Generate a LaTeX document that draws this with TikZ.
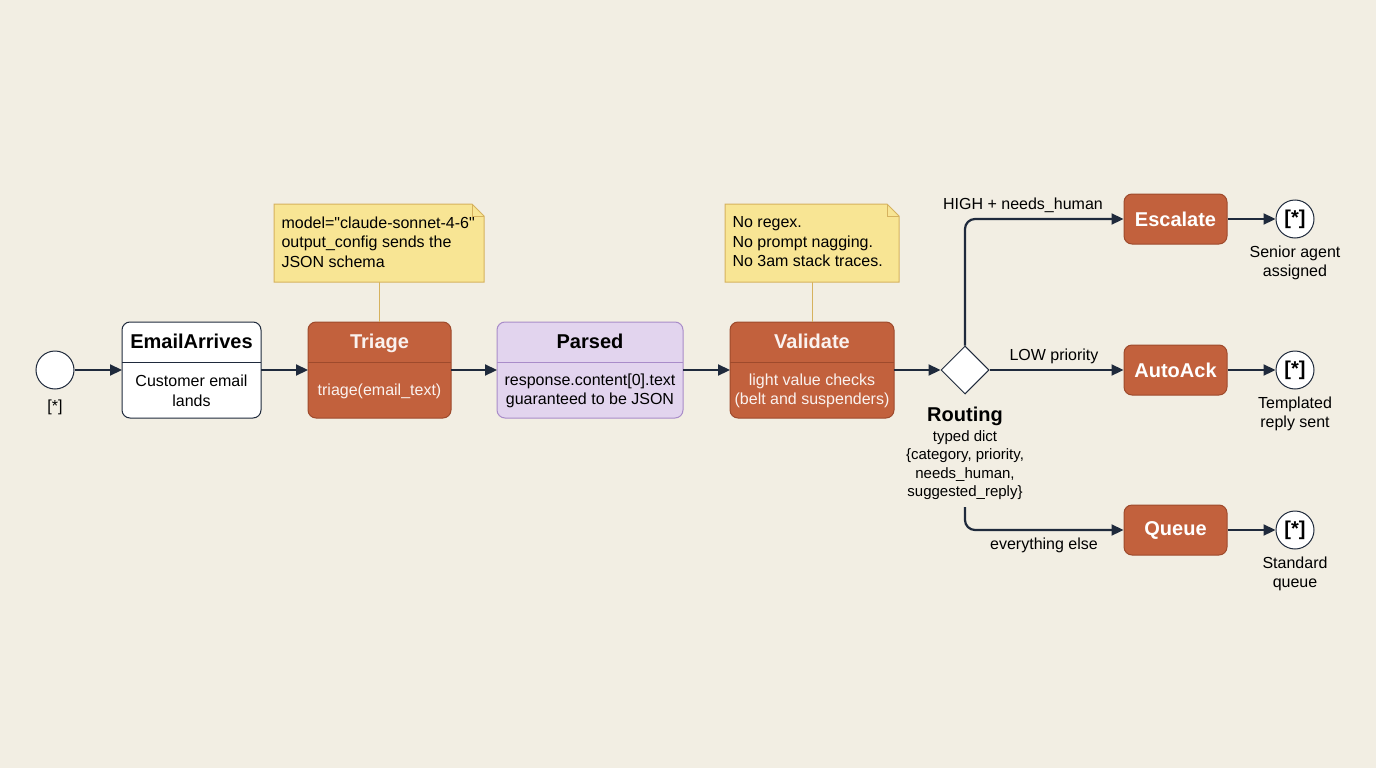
\documentclass[tikz,border=0pt]{standalone}
\usepackage{fontspec}
\setmainfont{Liberation Sans}[Ligatures=TeXOff]
\usetikzlibrary{arrows.meta,shapes.geometric}
\definecolor{bg}{HTML}{F2EEE3}
\definecolor{ink}{HTML}{1F2A3C}
\definecolor{rust}{HTML}{C2613D}
\definecolor{rustb}{HTML}{9E4A2C}
\definecolor{lav}{HTML}{E2D4EE}
\definecolor{lavb}{HTML}{A98CC9}
\definecolor{note}{HTML}{F8E594}
\definecolor{noteb}{HTML}{D6B25E}
\begin{document}
\begin{tikzpicture}[x=1pt,y=-1pt,
  txt/.style={font=\fontsize{16}{19.5}\selectfont,align=center},
  ttl/.style={font=\fontsize{20}{24}\selectfont\bfseries,text height=14.5pt,text depth=4pt},
  arr/.style={draw=ink,line width=2.2pt,-{Triangle[length=12pt,width=11pt]}},
  endc/.style={circle,draw=ink,line width=1pt,fill=white,minimum size=38pt,inner sep=0pt,font=\fontsize{20}{24}\selectfont\bfseries},
  small/.style={rounded corners=8pt,fill=rust,draw=rustb,line width=1pt,minimum width=103pt,minimum height=50pt,text=white,font=\fontsize{20}{24}\selectfont\bfseries}]
\fill[bg] (0,0) rectangle (1376,768);
\useasboundingbox (0,0) rectangle (1376,768);
% start
\node[circle,draw=ink,line width=1pt,fill=white,minimum size=38pt,inner sep=0pt] (s) at (55,370) {};
\node[txt] (sl) at (55,407) {[*]};
% boxes
\newcommand{\stbox}[9]{%
 \draw[rounded corners=8pt,fill=#6,draw=#7,line width=1pt] (#1,322) rectangle (#2,418);
 \draw[draw=#7,line width=1pt] (#1,362) -- (#2,362);
 \node[ttl,text=#8] (#3) at ({(#1+#2)/2},343.5) {#4};
 \node[txt,text=#8] (#3b) at ({(#1+#2)/2},391) {#5};
 \coordinate (#3W) at (#1,370); \coordinate (#3E) at (#2,370);}
\stbox{122}{261}{ea}{EmailArrives}{Customer email\\lands}{white}{ink}{black}{}
\stbox{308}{451}{tr}{Triage}{triage(email\_text)}{rust}{rustb}{white!92!rust}{}
\stbox{497}{683}{pa}{Parsed}{response.content[0].text\\guaranteed to be JSON}{lav}{lavb}{black}{}
\stbox{730}{894}{va}{Validate}{light value checks\\(belt and suspenders)}{rust}{rustb}{white!92!rust}{}
% notes
\draw[noteb,line width=1pt] (379,282) -- (379,322);
\draw[noteb,line width=1pt] (812,282) -- (812,322);
\draw[fill=note,draw=noteb,line width=1pt] (274,204) -- (472,204) -- (484,216) -- (484,282) -- (274,282) -- cycle;
\draw[draw=noteb,line width=1pt] (472,204) -- (472,216) -- (484,216);
\node[txt,align=left,anchor=north west] (n1) at (278,213) {model="claude-sonnet-4-6"\\output\_config sends the\\JSON schema};
\draw[fill=note,draw=noteb,line width=1pt] (725,204) -- (887,204) -- (899,216) -- (899,282) -- (725,282) -- cycle;
\draw[draw=noteb,line width=1pt] (887,204) -- (887,216) -- (899,216);
\node[txt,align=left,anchor=north west] (n2) at (729,213) {No regex.\\No prompt nagging.\\No 3am stack traces.};
% diamond
\node[diamond,draw=ink,line width=1pt,fill=white,minimum width=48pt,minimum height=48pt,inner sep=0pt] (d) at (965,370) {};
\node[ttl] (rt) at (965,416) {Routing};
\node[txt,font=\fontsize{15}{18.5}\selectfont] (rtb) at (965,465) {typed dict\\\{category, priority,\\needs\_human,\\suggested\_reply\}};
% targets
\node[small] (esc) at (1175.5,219) {Escalate};
\node[small] (aa) at (1175.5,370) {AutoAck};
\node[small] (qu) at (1175.5,530) {Queue};
\node[endc] (e1) at (1295,219) {[*]};
\node[endc] (e2) at (1295,370) {[*]};
\node[endc] (e3) at (1295,530) {[*]};
\node[txt] (l1) at (1295,263) {Senior agent\\assigned};
\node[txt] (l2) at (1295,414) {Templated\\reply sent};
\node[txt] (l3) at (1295,574) {Standard\\queue};
% arrows
\draw[arr] (s) -- (eaW);
\draw[arr] (eaE) -- (trW);
\draw[arr] (trE) -- (paW);
\draw[arr] (paE) -- (vaW);
\draw[arr] (vaE) -- (d.west);
\draw[arr,rounded corners=10pt] (d.north) |- (esc.west);
\draw[arr] (d.east) -- (aa.west);
\coordinate (qs) at (965,507);
\draw[arr,rounded corners=10pt] (qs) |- (qu.west);
\draw[arr] (esc) -- (e1);
\draw[arr] (aa) -- (e2);
\draw[arr] (qu) -- (e3);
\node[txt] (hl) at (1023,205) {HIGH + needs\_human};
\node[txt] (ll) at (1054,356) {LOW priority};
\node[txt] (el) at (1044,545) {everything else};
\end{tikzpicture}
\end{document}
